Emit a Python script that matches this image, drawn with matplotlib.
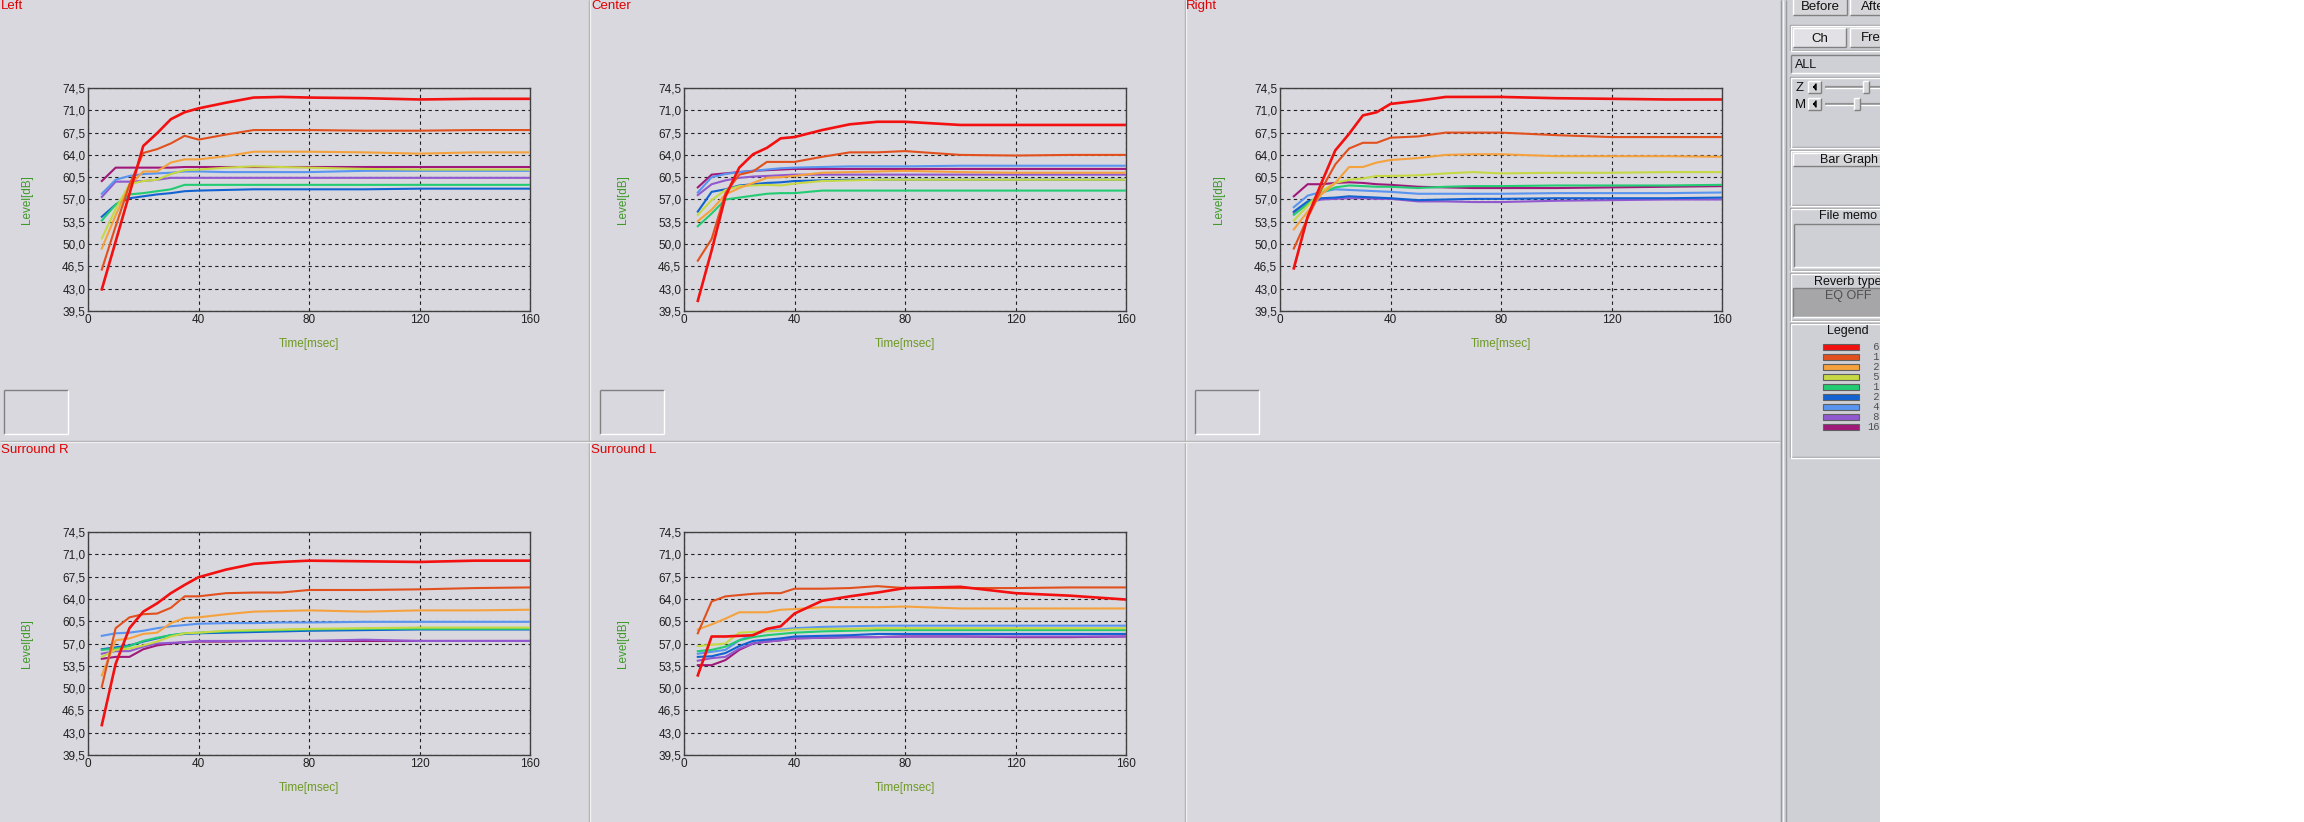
import numpy as np
import matplotlib
matplotlib.use('Agg')
import matplotlib.pyplot as plt
from matplotlib.patches import Rectangle

plt.rcParams['font.family'] = ['Liberation Sans', 'DejaVu Sans']

# time axis (msec) and octave bands
t = [5, 10, 15, 20, 25, 30, 35, 40, 50, 60, 70, 80, 100, 120, 140, 160]
bands = [' 63Hz', ' 125Hz', ' 250Hz', ' 500Hz', ' 1kHz', ' 2kHz', ' 4kHz', ' 8kHz', '16kHz']
colors = ['#f21010', '#e2501e', '#f5a23e', '#c6d844', '#22cc72', '#1262d2', '#5894f0', '#9258d0', '#a0187a']

# levels [dB], one row per band (63 .. 16k)
left = [
    [42.9, 50.4, 57.9, 65.4, 67.4, 69.6, 70.7, 71.3, 72.2, 73.0, 73.1, 73.0, 72.9, 72.7, 72.8, 72.8],
    [46.0, 52.8, 59.3, 64.3, 64.9, 65.8, 67.0, 66.4, 67.2, 67.9, 67.9, 67.9, 67.8, 67.8, 67.9, 67.9],
    [49.3, 54.5, 59.2, 61.4, 61.4, 62.8, 63.3, 63.3, 63.8, 64.5, 64.5, 64.5, 64.4, 64.2, 64.4, 64.4],
    [50.9, 55.5, 59.4, 59.9, 60.1, 61.0, 61.6, 61.7, 62.0, 62.2, 62.1, 62.0, 61.8, 61.7, 61.7, 61.7],
    [53.7, 56.2, 57.8, 58.0, 58.3, 58.6, 59.3, 59.3, 59.3, 59.3, 59.3, 59.3, 59.3, 59.3, 59.3, 59.3],
    [54.3, 56.2, 57.2, 57.5, 57.8, 58.0, 58.3, 58.4, 58.5, 58.6, 58.6, 58.6, 58.6, 58.7, 58.7, 58.7],
    [57.9, 60.1, 60.7, 61.0, 61.1, 61.2, 61.4, 61.4, 61.3, 61.3, 61.3, 61.3, 61.5, 61.5, 61.5, 61.5],
    [57.4, 59.8, 59.8, 59.9, 60.1, 60.4, 60.4, 60.4, 60.4, 60.4, 60.4, 60.4, 60.4, 60.4, 60.4, 60.4],
    [59.9, 62.0, 62.0, 62.0, 62.0, 62.0, 62.1, 62.1, 62.1, 62.1, 62.1, 62.1, 62.1, 62.1, 62.1, 62.1],
]
center = [
    [41.1, 49.0, 57.5, 62.0, 64.1, 65.1, 66.6, 66.8, 67.9, 68.8, 69.2, 69.2, 68.7, 68.7, 68.7, 68.7],
    [47.4, 50.8, 58.0, 60.9, 61.4, 62.9, 62.9, 62.9, 63.7, 64.4, 64.4, 64.6, 64.0, 63.9, 64.0, 64.0],
    [53.6, 55.4, 57.8, 58.8, 59.6, 60.4, 60.5, 60.7, 61.2, 61.3, 61.4, 61.5, 61.3, 61.2, 61.2, 61.2],
    [54.6, 56.9, 58.5, 59.1, 59.2, 59.3, 59.2, 59.5, 59.9, 60.0, 60.1, 60.1, 60.1, 60.1, 60.1, 60.1],
    [52.8, 54.8, 57.0, 57.3, 57.6, 57.9, 58.0, 58.0, 58.4, 58.4, 58.4, 58.4, 58.4, 58.4, 58.4, 58.4],
    [55.1, 58.2, 58.6, 59.2, 59.4, 59.6, 59.7, 59.9, 60.0, 60.1, 60.1, 60.1, 60.1, 60.1, 60.1, 60.1],
    [58.1, 60.5, 61.0, 61.3, 61.5, 61.7, 61.9, 62.0, 62.1, 62.2, 62.2, 62.2, 62.3, 62.3, 62.3, 62.3],
    [57.7, 59.4, 60.0, 60.4, 60.6, 60.7, 60.8, 60.9, 60.9, 60.9, 60.9, 60.9, 60.9, 60.9, 60.9, 60.9],
    [58.9, 60.9, 61.1, 61.3, 61.5, 61.6, 61.7, 61.8, 61.8, 61.8, 61.8, 61.8, 61.8, 61.8, 61.8, 61.8],
]
right = [
    [46.2, 54.3, 59.6, 64.7, 67.3, 70.2, 70.7, 72.0, 72.5, 73.1, 73.1, 73.1, 72.9, 72.8, 72.7, 72.7],
    [49.3, 54.1, 58.6, 62.5, 65.0, 65.9, 65.9, 66.7, 66.9, 67.5, 67.5, 67.5, 67.1, 66.8, 66.8, 66.8],
    [52.3, 55.1, 57.8, 59.6, 62.1, 62.1, 62.8, 63.2, 63.5, 64.0, 64.1, 64.1, 63.8, 63.8, 63.8, 63.7],
    [53.7, 56.0, 58.3, 59.6, 60.1, 60.3, 60.7, 60.7, 60.8, 61.1, 61.3, 61.1, 61.2, 61.2, 61.3, 61.3],
    [54.6, 56.3, 58.0, 58.9, 59.2, 59.1, 59.0, 59.0, 58.8, 59.0, 59.1, 59.1, 59.2, 59.2, 59.2, 59.3],
    [55.1, 56.7, 57.2, 57.3, 57.5, 57.4, 57.3, 57.2, 56.9, 57.0, 57.1, 57.1, 57.2, 57.2, 57.2, 57.3],
    [55.8, 57.6, 58.2, 58.6, 58.5, 58.4, 58.3, 58.2, 57.9, 57.9, 57.9, 57.9, 58.0, 58.0, 58.0, 58.1],
    [54.9, 56.5, 57.0, 57.1, 57.2, 57.2, 57.1, 57.1, 56.7, 56.7, 56.6, 56.6, 56.8, 56.9, 57.0, 57.0],
    [57.5, 59.4, 59.4, 59.6, 59.7, 59.6, 59.4, 59.3, 59.0, 58.9, 58.8, 58.8, 58.8, 58.9, 59.0, 59.1],
]
surround_r = [
    [44.2, 53.8, 59.4, 62.0, 63.3, 64.9, 66.2, 67.4, 68.6, 69.5, 69.8, 70.0, 69.9, 69.8, 70.0, 70.0],
    [50.2, 59.4, 61.1, 61.6, 61.7, 62.6, 64.4, 64.4, 64.9, 65.0, 65.0, 65.4, 65.4, 65.5, 65.7, 65.8],
    [52.0, 57.5, 57.8, 58.5, 58.7, 60.2, 61.0, 61.1, 61.6, 62.0, 62.1, 62.2, 62.0, 62.2, 62.2, 62.3],
    [54.9, 56.0, 56.2, 56.7, 57.3, 58.1, 58.6, 58.7, 59.0, 59.1, 59.2, 59.3, 59.4, 59.5, 59.5, 59.5],
    [56.0, 56.2, 56.6, 57.4, 57.9, 58.3, 58.6, 58.7, 58.9, 59.0, 59.1, 59.2, 59.3, 59.3, 59.3, 59.3],
    [56.1, 56.4, 56.7, 57.3, 57.8, 58.3, 58.5, 58.6, 58.7, 58.8, 58.9, 59.0, 59.1, 59.2, 59.2, 59.2],
    [58.2, 58.6, 58.7, 59.0, 59.4, 59.7, 59.9, 60.1, 60.2, 60.2, 60.3, 60.3, 60.4, 60.4, 60.4, 60.4],
    [55.4, 55.8, 55.8, 56.5, 57.0, 57.1, 57.2, 57.4, 57.4, 57.4, 57.4, 57.4, 57.6, 57.4, 57.4, 57.4],
    [54.6, 54.9, 54.9, 56.1, 56.7, 57.0, 57.2, 57.3, 57.3, 57.4, 57.4, 57.4, 57.4, 57.4, 57.4, 57.4],
]
surround_l = [
    [52.0, 58.1, 58.1, 58.2, 58.3, 59.3, 59.7, 61.7, 63.7, 64.4, 65.0, 65.7, 65.9, 64.9, 64.5, 63.9],
    [58.6, 63.6, 64.4, 64.6, 64.8, 64.9, 64.9, 65.6, 65.6, 65.7, 66.0, 65.7, 65.7, 65.7, 65.8, 65.8],
    [59.2, 60.0, 60.9, 61.9, 61.9, 61.9, 62.3, 62.4, 62.7, 62.7, 62.7, 62.8, 62.5, 62.5, 62.5, 62.5],
    [56.6, 56.8, 57.0, 58.7, 58.8, 58.9, 59.0, 59.2, 59.3, 59.3, 59.4, 59.4, 59.4, 59.4, 59.4, 59.4],
    [55.8, 56.0, 56.5, 57.5, 58.0, 58.3, 58.5, 58.7, 58.9, 59.0, 59.1, 59.1, 59.1, 59.1, 59.1, 59.1],
    [54.9, 55.0, 55.5, 56.6, 57.4, 57.6, 57.8, 58.1, 58.2, 58.3, 58.5, 58.5, 58.5, 58.5, 58.5, 58.5],
    [55.4, 55.7, 56.0, 57.5, 58.4, 59.0, 59.2, 59.4, 59.6, 59.7, 59.8, 59.8, 59.8, 59.8, 59.8, 59.8],
    [54.3, 54.7, 54.9, 56.2, 57.0, 57.3, 57.5, 57.8, 57.9, 58.0, 58.0, 58.1, 58.1, 58.1, 58.1, 58.1],
    [53.6, 53.6, 54.4, 56.0, 57.0, 57.3, 57.5, 57.8, 57.9, 58.0, 58.0, 58.1, 58.1, 58.0, 58.0, 58.1],
]

yticks = [39.5, 43.0, 46.5, 50.0, 53.5, 57.0, 60.5, 64.0, 67.5, 71.0, 74.5]
xticks = [0, 40, 80, 120, 160]

W, H = 2304, 822
BG = '#d8d8de'
PANEL = '#cfd0d5'

fig = plt.figure(figsize=(W / 100, H / 100), dpi=100, facecolor=BG)
bg = fig.add_axes([0, 0, 1, 1])
bg.set_xlim(0, W)
bg.set_ylim(H, 0)
bg.axis('off')


def line(x0, y0, x1, y1, c, lw=1.0, z=2):
    bg.plot([x0, x1], [y0, y1], color=c, lw=lw, zorder=z, solid_capstyle='butt')


def sunken(x0, y0, x1, y1, fc=None):
    if fc:
        bg.add_patch(Rectangle((x0, y0), x1 - x0, y1 - y0, fc=fc, ec='none', zorder=2))
    line(x0, y0, x1, y0, '#808080')
    line(x0, y0, x0, y1, '#808080')
    line(x0, y1, x1, y1, 'white')
    line(x1, y0, x1, y1, 'white')


def raised(x0, y0, x1, y1, label, fc='#d6d6da', fs=9.5):
    bg.add_patch(Rectangle((x0, y0), x1 - x0, y1 - y0, fc=fc, ec='none', zorder=2))
    line(x0, y0, x1, y0, 'white')
    line(x0, y0, x0, y1, 'white')
    line(x0, y1, x1, y1, '#808080')
    line(x1, y0, x1, y1, '#808080')
    bg.text((x0 + x1) / 2, (y0 + y1) / 2 + 1, label, ha='center', va='center',
            fontsize=fs, color='#101010', zorder=3)


def group(x0, y0, x1, y1):
    bg.add_patch(Rectangle((x0, y0), x1 - x0, y1 - y0, fill=False, ec='#a0a0a4', lw=1, zorder=2))
    bg.add_patch(Rectangle((x0 + 1, y0 + 1), x1 - x0, y1 - y0, fill=False, ec='white', lw=1, zorder=2))


# panel separators
for x in [589, 1185]:
    line(x, 0, x, H, '#a8a8ac')
    line(x + 1, 0, x + 1, H, '#f0f0f0')
line(0, 441, 1780, 441, '#a8a8ac')
line(0, 442, 1780, 442, '#f0f0f0')

# small boxes below top panels
for x0 in [4, 600, 1195]:
    sunken(x0, 390, x0 + 64, 434)

# panel titles
titles = [('Left', 1, 6), ('Center', 591, 6), ('Right', 1186, 6),
          ('Surround R', 1, 450), ('Surround L', 591, 450)]
for s, x, y in titles:
    bg.text(x, y, s, ha='left', va='center', fontsize=9.5, color='#e00000', zorder=3)

# plots
panels = [(left, 88, 88), (center, 684, 88), (right, 1280, 88),
          (surround_r, 88, 532), (surround_l, 684, 532)]
AW, AH = 442, 223
for data, x0, y0 in panels:
    ax = fig.add_axes([x0 / W, 1 - (y0 + AH) / H, AW / W, AH / H])
    ax.set_facecolor('none')
    for i in range(len(bands) - 1, -1, -1):
        ax.plot(t, data[i], color=colors[i], lw=1.9 if i == 0 else 1.5, zorder=3)
    ax.set_xlim(0, 160)
    ax.set_ylim(39.5, 74.5)
    ax.set_xticks(xticks)
    ax.set_yticks(yticks)
    ax.set_yticklabels([f'{v:.1f}'.replace('.', ',') for v in yticks])
    ax.tick_params(length=0, labelsize=8.5, colors='#202020', pad=2)
    ax.grid(True, color='#202020', lw=0.8, ls=(0, (3, 3)))
    for sp in ax.spines.values():
        sp.set_color('#404040')
        sp.set_linewidth(1.0)
    ax.text(-61 / AW, 0.5, 'Level[dB]', transform=ax.transAxes, rotation=90,
            ha='center', va='center', fontsize=8.5, color='#3f9a28')
    ax.text(0.5, -33 / AH, 'Time[msec]', transform=ax.transAxes,
            ha='center', va='center', fontsize=8.5, color='#6f9a24')

# right-hand control panel
bg.add_patch(Rectangle((1780, 0), 100, H, fc=PANEL, ec='none', zorder=1))
line(1781, 0, 1781, H, '#9a9a9e')
line(1783, 0, 1783, H, '#f4f4f4')
line(1786, 0, 1786, H, '#9a9a9e')

raised(1793, -2, 1847, 15, 'Before')
raised(1850, -2, 1900, 15, 'After')
group(1790, 25, 1900, 50)
raised(1793, 28, 1846, 47, 'Ch', fc='#e2e2e6')
raised(1850, 28, 1900, 47, 'Freq')
sunken(1791, 55, 1900, 73)
bg.text(1795, 64.5, 'ALL', ha='left', va='center', fontsize=9, color='#101010', zorder=3)

group(1790, 77, 1900, 147)
for lab, y, thumb in [('Z', 87, 1866), ('M', 104, 1857)]:
    bg.text(1800, y + 1, lab, ha='center', va='center', fontsize=9.5, color='#101010', zorder=3)
    raised(1808, y - 6, 1821, y + 6, '')
    bg.plot([1814, 1816, 1816, 1814], [y, y - 3, y + 3, y], color='black', lw=1, zorder=4)
    line(1825, y, 1900, y, '#909090', lw=1.6)
    line(1825, y + 1, 1900, y + 1, 'white')
    raised(thumb - 3, y - 6, thumb + 3, y + 6, '')

group(1790, 150, 1900, 205)
raised(1793, 153, 1905, 166, 'Bar Graph', fs=9)

group(1790, 208, 1900, 270)
bg.text(1848, 216, 'File memo', ha='center', va='center', fontsize=9, color='#101010', zorder=3)
sunken(1794, 224, 1905, 267)

group(1790, 273, 1900, 320)
bg.text(1848, 282, 'Reverb type', ha='center', va='center', fontsize=9, color='#101010', zorder=3)
sunken(1793, 288, 1905, 317, fc='#a6a6a8')
bg.text(1848, 296, 'EQ OFF', ha='center', va='center', fontsize=9, color='#505050', zorder=3)

group(1790, 323, 1900, 457)
bg.text(1848, 331, 'Legend', ha='center', va='center', fontsize=9, color='#101010', zorder=3)
for i, (lab, c) in enumerate(zip(bands, colors)):
    y = 347 + 10 * i
    bg.add_patch(Rectangle((1823, y - 3), 36, 6, fc=c, ec='#606060', lw=0.8, zorder=3))
    bg.text(1867, y, lab, ha='left', va='center', fontsize=7.5, color='#505050',
            family='Liberation Mono', zorder=3)

# blank white area to the right
bg.add_patch(Rectangle((1880, -5), W - 1880 + 5, H + 10, fc='white', ec='none', zorder=10))

fig.savefig('out.png', dpi=100, facecolor=BG)
